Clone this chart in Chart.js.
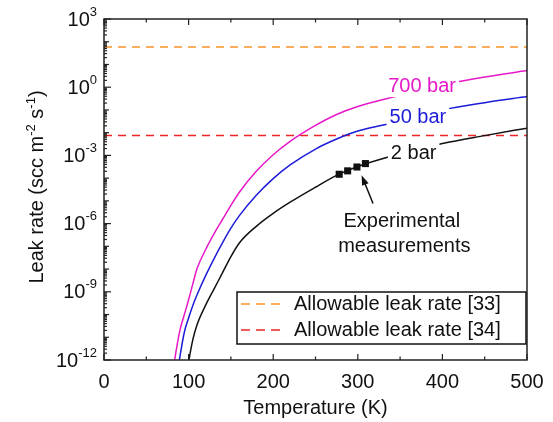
<!DOCTYPE html>
<html lang="en">
<head>
    <meta charset="UTF-8">
    <title>Leak rate vs temperature</title>
    <script src="https://cdn.jsdelivr.net/npm/chart.js"></script>
    <style>
        body { margin: 0; background: #fff; }
    </style>
</head>
<body>
    <canvas id="leakChart" width="553" height="422"></canvas>

    <script>
        // temperature grid (K) and log10 of leak rate
        const temps = [80, 85, 90, 95, 100, 105, 110, 120, 130, 140, 150, 160, 180, 200, 220, 250, 275, 300, 350, 400, 450, 500];
        const log700 = [-12.9, -11.65, -10.65, -10.0, -9.35, -8.65, -7.98, -7.15, -6.45, -5.82, -5.2, -4.62, -3.7, -2.97, -2.38, -1.68, -1.2, -0.85, -0.36, 0.1, 0.45, 0.73];
        const log50 = [-14.2, -13.0, -11.8, -10.77, -10.15, -9.6, -9.13, -8.3, -7.55, -6.85, -6.2, -5.65, -4.75, -4.02, -3.42, -2.72, -2.28, -1.93, -1.5, -1.0, -0.68, -0.41];
        const log2 = [-17.0, -16.0, -14.8, -13.4, -12.1, -11.1, -10.45, -9.6, -8.88, -8.17, -7.45, -6.85, -6.12, -5.55, -5.06, -4.4, -3.88, -3.49, -2.93, -2.48, -2.13, -1.8];

        // experimental points on the 2 bar curve
        const expTemps = [278, 288, 299, 309];
        const expLog = [-3.83, -3.68, -3.51, -3.36];

        // allowable leak rates (horizontal lines)
        const limit33 = 58;
        const limit34 = 0.0076;

        const xTicks = [0, 100, 200, 300, 400, 500];
        const yTickExps = [3, 0, -3, -6, -9, -12];

        const FONT = '20px "Liberation Sans", Arial, sans-serif';
        const SUP_FONT = '13px "Liberation Sans", Arial, sans-serif';
        const MAGENTA = '#e619c8';
        const BLUE = '#1c1cd8';
        const ORANGE = '#f7942a';
        const RED = '#ee2424';

        // text placed in data coordinates (K, log10 rate)
        const notes = [
            { text: '700 bar', t: 376, exp: 0.05, color: MAGENTA, mask: true },
            { text: '50 bar', t: 371, exp: -1.32, color: BLUE, mask: true },
            { text: '2 bar', t: 366, exp: -2.9, color: '#111', mask: true },
            { text: 'Experimental', t: 352, exp: -5.9, color: '#111', mask: false },
            { text: 'measurements', t: 355, exp: -7.0, color: '#111', mask: false }
        ];
        const arrowFrom = { t: 318, exp: -5.12 };
        const arrowTo = { t: 304.5, exp: -3.87 };

        const pts = (xs, logs) => xs.map((t, i) => ({ x: t, y: Math.pow(10, logs[i]) }));
        const flat = v => [{ x: 0, y: v }, { x: 500, y: v }];

        function supText(ctx, parts, x, y) {
            // parts: [[text, isSup], ...] drawn left to right from x
            parts.forEach(([s, sup]) => {
                ctx.font = sup ? SUP_FONT : FONT;
                ctx.fillText(s, x, sup ? y - 8 : y);
                x += ctx.measureText(s).width;
            });
        }
        function supWidth(ctx, parts) {
            return parts.reduce((w, [s, sup]) => {
                ctx.font = sup ? SUP_FONT : FONT;
                return w + ctx.measureText(s).width;
            }, 0);
        }

        const overlay = {
            id: 'overlay',
            afterDatasetsDraw(chart) {
                const { ctx, chartArea: a, scales: { x, y } } = chart;
                ctx.save();

                // curve labels
                ctx.textAlign = 'center';
                ctx.textBaseline = 'middle';
                ctx.font = FONT;
                notes.forEach(n => {
                    const px = x.getPixelForValue(n.t);
                    const py = y.getPixelForValue(Math.pow(10, n.exp));
                    const w = ctx.measureText(n.text).width;
                    if (n.mask) {
                        ctx.fillStyle = '#fff';
                        ctx.fillRect(px - w / 2 - 3, py - 11, w + 6, 22);
                    }
                    ctx.fillStyle = n.color;
                    ctx.fillText(n.text, px, py);
                });

                // arrow to the measurements
                const x0 = x.getPixelForValue(arrowFrom.t), y0 = y.getPixelForValue(Math.pow(10, arrowFrom.exp));
                const x1 = x.getPixelForValue(arrowTo.t), y1 = y.getPixelForValue(Math.pow(10, arrowTo.exp));
                const ang = Math.atan2(y1 - y0, x1 - x0);
                ctx.strokeStyle = '#111';
                ctx.fillStyle = '#111';
                ctx.lineWidth = 1.5;
                ctx.beginPath();
                ctx.moveTo(x0, y0);
                ctx.lineTo(x1 - 7 * Math.cos(ang), y1 - 7 * Math.sin(ang));
                ctx.stroke();
                ctx.beginPath();
                ctx.moveTo(x1, y1);
                ctx.lineTo(x1 - 10 * Math.cos(ang) + 3.5 * Math.sin(ang), y1 - 10 * Math.sin(ang) - 3.5 * Math.cos(ang));
                ctx.lineTo(x1 - 10 * Math.cos(ang) - 3.5 * Math.sin(ang), y1 - 10 * Math.sin(ang) + 3.5 * Math.cos(ang));
                ctx.closePath();
                ctx.fill();

                // legend box
                const lx = 237, ly = 292, lw = 289, lh = 52;
                ctx.fillStyle = '#fff';
                ctx.fillRect(lx, ly, lw, lh);
                ctx.strokeStyle = '#111';
                ctx.lineWidth = 1.5;
                ctx.strokeRect(lx, ly, lw, lh);
                [[ORANGE, 'Allowable leak rate [33]', 304], [RED, 'Allowable leak rate [34]', 330]].forEach(([c, s, ry]) => {
                    ctx.strokeStyle = c;
                    ctx.setLineDash([9, 6]);
                    ctx.beginPath();
                    ctx.moveTo(241, ry);
                    ctx.lineTo(284, ry);
                    ctx.stroke();
                    ctx.setLineDash([]);
                    ctx.fillStyle = '#111';
                    ctx.font = FONT;
                    ctx.textAlign = 'left';
                    ctx.fillText(s, 294, ry);
                });

                // frame
                ctx.strokeStyle = '#222';
                ctx.lineWidth = 1.5;
                ctx.strokeRect(a.left, a.top, a.right - a.left, a.bottom - a.top);

                // x ticks, inward on bottom and top
                ctx.lineWidth = 1.2;
                for (let v = 0; v <= 500; v += 50) {
                    const px = x.getPixelForValue(v);
                    const len = v % 100 === 0 ? 6 : 3.5;
                    ctx.beginPath();
                    ctx.moveTo(px, a.bottom);
                    ctx.lineTo(px, a.bottom - len);
                    ctx.moveTo(px, a.top);
                    ctx.lineTo(px, a.top + len);
                    ctx.stroke();
                }

                // y ticks (log minor), inward on the left
                for (let e = -12; e <= 3; e++) {
                    for (let m = 1; m <= 9; m++) {
                        if (e === 3 && m > 1) break;
                        const py = y.getPixelForValue(m * Math.pow(10, e));
                        const len = m === 1 ? (e % 3 === 0 ? 7 : 5) : 3;
                        ctx.beginPath();
                        ctx.moveTo(a.left, py);
                        ctx.lineTo(a.left + len, py);
                        ctx.stroke();
                    }
                }

                // tick labels
                ctx.fillStyle = '#111';
                ctx.font = FONT;
                ctx.textAlign = 'center';
                ctx.textBaseline = 'alphabetic';
                xTicks.forEach(v => ctx.fillText(String(v), x.getPixelForValue(v), 388));

                ctx.textAlign = 'left';
                ctx.textBaseline = 'middle';
                yTickExps.forEach(e => {
                    const parts = [['10', false], [String(e), true]];
                    const w = supWidth(ctx, parts);
                    supText(ctx, parts, a.left - 7 - w, y.getPixelForValue(Math.pow(10, e)) + 1);
                });

                // axis titles
                ctx.font = FONT;
                ctx.textAlign = 'center';
                ctx.textBaseline = 'alphabetic';
                ctx.fillText('Temperature (K)', (a.left + a.right) / 2, 414);

                const title = [['Leak rate (scc m', false], ['-2', true], [' s', false], ['-1', true], [')', false]];
                ctx.translate(43, 187);
                ctx.rotate(-Math.PI / 2);
                ctx.textAlign = 'left';
                const tw = supWidth(ctx, title);
                supText(ctx, title, -tw / 2, 0);

                ctx.restore();
            }
        };

        const ctx = document.getElementById('leakChart').getContext('2d');
        new Chart(ctx, {
            type: 'line',
            data: {
                datasets: [
                    {
                        label: '700 bar',
                        data: pts(temps, log700),
                        borderColor: MAGENTA,
                        borderWidth: 1.5,
                        pointRadius: 0,
                        cubicInterpolationMode: 'monotone'
                    },
                    {
                        label: '50 bar',
                        data: pts(temps, log50),
                        borderColor: BLUE,
                        borderWidth: 1.5,
                        pointRadius: 0,
                        cubicInterpolationMode: 'monotone'
                    },
                    {
                        label: '2 bar',
                        data: pts(temps, log2),
                        borderColor: '#111',
                        borderWidth: 1.5,
                        pointRadius: 0,
                        cubicInterpolationMode: 'monotone'
                    },
                    {
                        label: 'Experimental measurements',
                        data: pts(expTemps, expLog),
                        showLine: false,
                        pointStyle: 'rect',
                        pointRadius: 5,
                        backgroundColor: '#111',
                        borderColor: '#111',
                        borderWidth: 0
                    },
                    {
                        label: 'Allowable leak rate [33]',
                        data: flat(limit33),
                        borderColor: ORANGE,
                        borderWidth: 1.5,
                        borderDash: [8, 6],
                        pointRadius: 0
                    },
                    {
                        label: 'Allowable leak rate [34]',
                        data: flat(limit34),
                        borderColor: RED,
                        borderWidth: 1.5,
                        borderDash: [8, 6],
                        pointRadius: 0
                    }
                ]
            },
            options: {
                responsive: false,
                animation: false,
                devicePixelRatio: 1,
                layout: { padding: { left: 104, right: 26, top: 19, bottom: 62 } },
                plugins: { legend: { display: false }, tooltip: { enabled: false } },
                scales: {
                    x: { type: 'linear', min: 0, max: 500, display: false },
                    y: { type: 'logarithmic', min: 1e-12, max: 1e3, display: false }
                }
            },
            plugins: [overlay]
        });
    </script>
</body>
</html>
